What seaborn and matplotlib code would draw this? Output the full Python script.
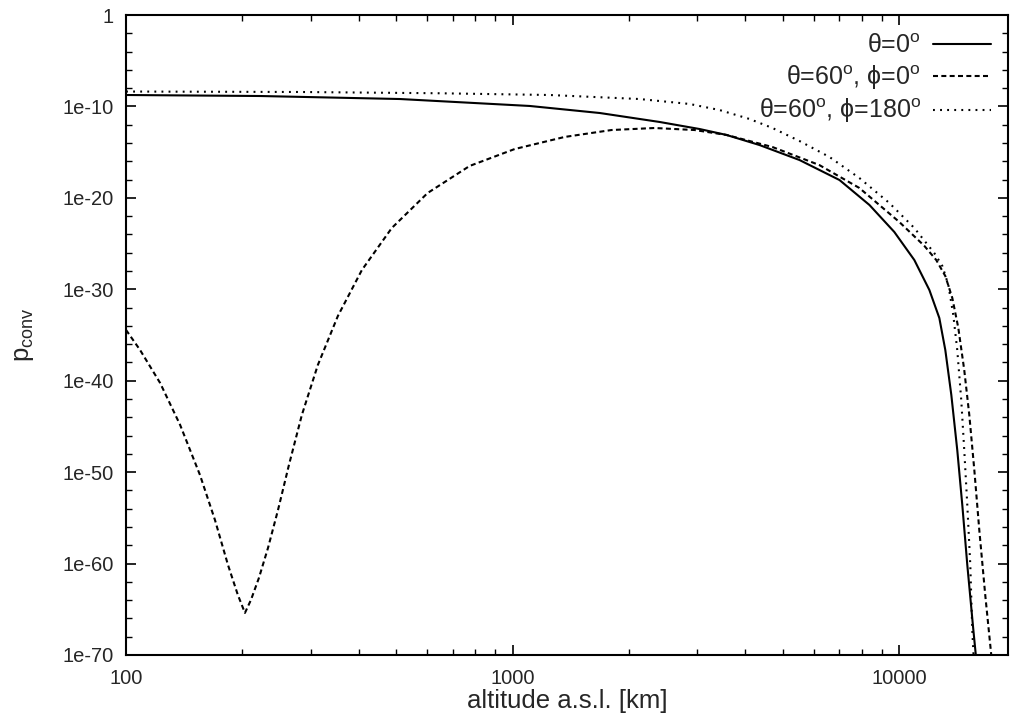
import numpy as np
import pandas as pd
import matplotlib
matplotlib.use("Agg")
import matplotlib.pyplot as plt
import matplotlib.ticker as mticker
import seaborn as sns

# altitude [km] and log10(p_conv)
alt_theta0 = [100, 222, 511, 1107, 1680, 2399, 3043, 3573, 4347, 5517, 7003,
              8370, 9705, 10935, 11960, 12690, 13150, 13630, 14120, 14550,
              14990, 15540, 15910]
logp_theta0 = [-8.75, -8.86, -9.19, -9.95, -10.72, -11.70, -12.47, -13.12,
               -14.22, -15.86, -18.05, -20.78, -23.73, -26.80, -30.08, -33.14,
               -36.64, -41.56, -47.58, -53.59, -60.15, -67.26, -71.64]

alt_theta60_phi0 = [100, 108.7, 122.5, 138.0, 155.3, 169.8, 183.5, 194.6,
                    203.0, 210.4, 220.6, 232.9, 247.2, 263.8, 284.9, 313.4,
                    353.1, 407.4, 486.7, 602.6, 773.9, 1012, 1362, 1802, 2327,
                    2954, 3573, 4698, 6209, 7882, 10000, 11610, 12460, 13150,
                    13710, 14210, 14720, 15170, 15630, 16100, 16680, 17290,
                    17710]
logp_theta60_phi0 = [-34.45, -36.64, -40.25, -44.84, -50.31, -55.23, -60.15,
                     -63.43, -65.40, -63.98, -61.58, -58.29, -54.14, -49.22,
                     -43.75, -38.28, -32.92, -27.89, -23.30, -19.47, -16.51,
                     -14.66, -13.34, -12.58, -12.36, -12.58, -13.12, -14.44,
                     -16.41, -18.92, -22.64, -25.26, -26.80, -28.55, -30.95,
                     -34.23, -38.83, -43.75, -49.76, -56.33, -63.43, -70.0,
                     -73.83]

alt_theta60_phi180 = [100, 282, 647, 1247, 2128, 2866, 3425, 4096, 4698, 5517,
                      6597, 7882, 9421, 10935, 12310, 12920, 13390, 13790,
                      14120, 14460, 14720, 14990, 15260, 15440, 15630]
logp_theta60_phi180 = [-8.37, -8.42, -8.56, -8.75, -9.19, -9.73, -10.39,
                       -11.37, -12.36, -13.78, -15.53, -17.83, -20.56, -23.30,
                       -26.03, -27.45, -29.53, -32.81, -36.64, -42.11, -47.58,
                       -53.59, -60.15, -67.26, -71.64]

labels = [r"θ=0$^{\mathrm{o}}$",
          r"θ=60$^{\mathrm{o}}$, ϕ=0$^{\mathrm{o}}$",
          r"θ=60$^{\mathrm{o}}$, ϕ=180$^{\mathrm{o}}$"]
ytick_vals = [1e0, 1e-10, 1e-20, 1e-30, 1e-40, 1e-50, 1e-60, 1e-70]
ytick_labels = ["1", "1e-10", "1e-20", "1e-30", "1e-40", "1e-50", "1e-60", "1e-70"]
xtick_vals = [100, 1000, 10000]
xtick_labels = ["100", "1000", "10000"]

sns.set_theme(style="ticks")
plt.rcParams["font.family"] = ["Liberation Sans", "DejaVu Sans"]
plt.rcParams["mathtext.fontset"] = "custom"
plt.rcParams["mathtext.rm"] = "Liberation Sans"
plt.rcParams["mathtext.it"] = "Liberation Sans:italic"

fig = plt.figure(figsize=(10.1, 7.25), dpi=100)
ax = fig.add_axes([0.1248, 0.0966, 0.8732, 0.8827])
ax.set_xscale("log")
ax.set_yscale("log")

series = [
    (alt_theta0, logp_theta0, "-"),
    (alt_theta60_phi0, logp_theta60_phi0, (0, (2.4, 1.6))),
    (alt_theta60_phi180, logp_theta60_phi180, (0, (0.9, 2.5))),
]
for (alt, logp, ls), lab in zip(series, labels):
    df = pd.DataFrame({"alt": alt, "p": 10.0 ** np.array(logp)})
    sns.lineplot(data=df, x="alt", y="p", ax=ax, color="black",
                 linestyle=ls, linewidth=1.5, label=lab, sort=False)

ax.set_xlim(100, 19100)
ax.set_ylim(1e-70, 1)

ax.yaxis.set_major_locator(mticker.FixedLocator(ytick_vals))
ax.yaxis.set_major_formatter(mticker.FixedFormatter(ytick_labels))
ax.yaxis.set_minor_locator(mticker.FixedLocator([10.0 ** -k for k in range(0, 71, 2)]))
ax.yaxis.set_minor_formatter(mticker.NullFormatter())
ax.xaxis.set_major_locator(mticker.FixedLocator(xtick_vals))
ax.xaxis.set_major_formatter(mticker.FixedFormatter(xtick_labels))
ax.xaxis.set_minor_locator(mticker.LogLocator(base=10, subs=np.arange(2, 10)))
ax.xaxis.set_minor_formatter(mticker.NullFormatter())

ax.tick_params(which="both", direction="in", top=True, right=True,
               color="black", labelsize=14.5)
ax.tick_params(axis="x", pad=10)
ax.tick_params(axis="y", pad=9)
ax.tick_params(which="major", length=7, width=1.2)
ax.tick_params(which="minor", length=4, width=1.0)
for sp in ax.spines.values():
    sp.set_linewidth(1.5)
    sp.set_color("black")

ax.set_xlabel("altitude a.s.l. [km]", fontsize=18.5, labelpad=1)
ax.set_ylabel(r"p$_{\mathrm{conv}}$", fontsize=18.5, labelpad=19)

leg = ax.legend(loc="upper right", bbox_to_anchor=(0.9807, 0.970),
                markerfirst=False, frameon=False, fontsize=18,
                handlelength=2.3, handletextpad=0.5, labelspacing=0.2,
                borderaxespad=0, borderpad=0)

fig.savefig("out.png", dpi=100)
